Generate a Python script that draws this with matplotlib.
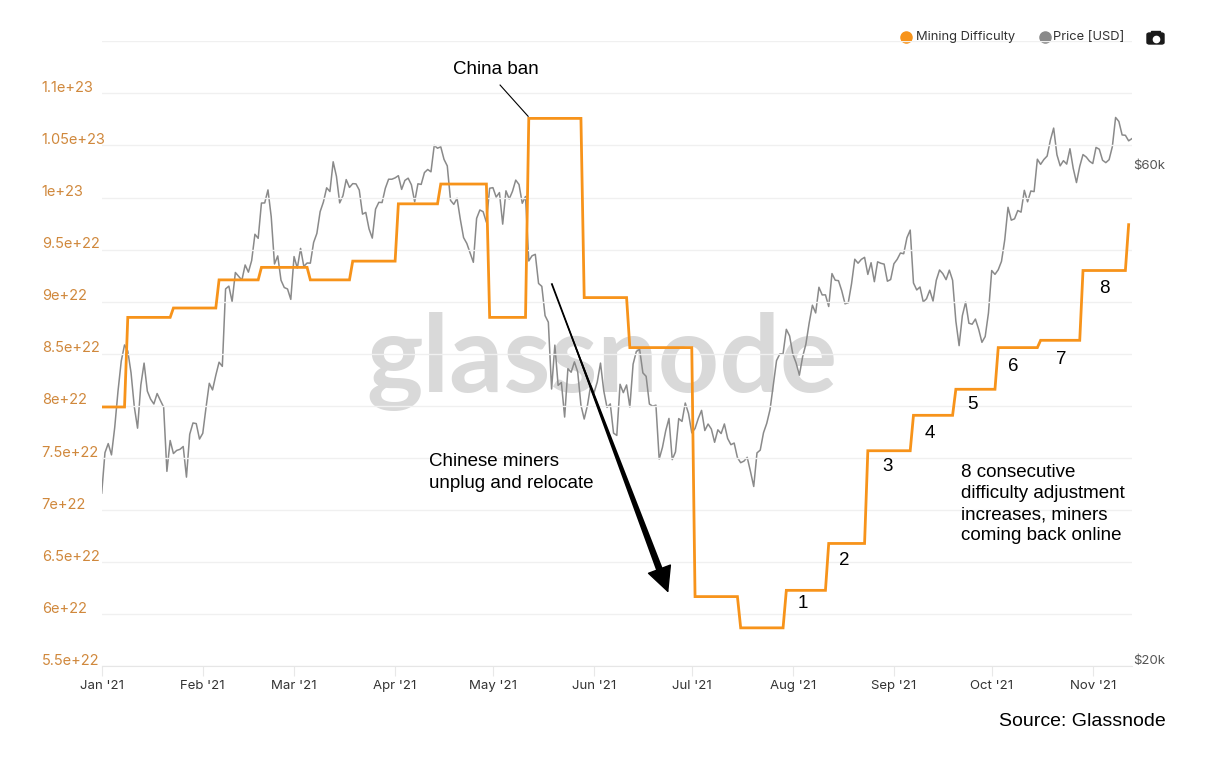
import numpy as np
import pandas as pd
import matplotlib
matplotlib.use("Agg")
import matplotlib.pyplot as plt
import matplotlib.dates as mdates
import matplotlib.transforms as mtransforms
from matplotlib.patches import FancyBboxPatch, Rectangle
from matplotlib.lines import Line2D
from matplotlib.ticker import NullLocator

# daily BTC price [USD], 2021-01-01 .. 2021-11-13
price_jan = [29374, 32127, 32782, 31971, 33992, 36824, 39371, 40797, 40254, 38356,
             35566, 33922, 37316, 39187, 36825, 36178, 35792, 36630, 36070, 35547,
             30825, 33005, 32067, 32289, 32366, 32569, 30432, 33466, 34316, 34269, 33114]
price_feb = [33538, 35510, 37472, 36926, 38144, 39266, 38903, 46196, 46481, 44919,
             47909, 47504, 47105, 48717, 47945, 49199, 52149, 51679, 55888, 55900,
             57539, 54207, 48824, 49705, 47093, 46339, 46188, 45137]
price_mar = [49631, 48378, 50538, 48561, 48927, 48912, 51206, 52246, 54824, 56008,
             57805, 57332, 61243, 59302, 55907, 56804, 58870, 57858, 58346, 58313,
             57523, 54529, 54738, 52774, 51705, 55137, 55974, 55947, 57750, 58917, 58918]
price_apr = [59095, 59384, 57604, 58760, 59057, 58192, 56048, 58323, 58245, 59794,
             60205, 59893, 63504, 63110, 63315, 61572, 60684, 56216, 55724, 56473,
             53906, 51763, 51093, 50050, 49004, 54021, 55034, 54824, 53555, 57750]
price_may = [57828, 56631, 57200, 53334, 57424, 56397, 57356, 58803, 58232, 55859,
             56704, 49150, 49716, 49880, 46760, 46456, 43537, 42910, 37002, 40782,
             37304, 37536, 34770, 38705, 38402, 39294, 38436, 35697, 34616, 35678, 37332]
price_jun = [36684, 37575, 39187, 36851, 35520, 35796, 33552, 33380, 37389, 36702,
             37334, 35552, 39097, 40218, 40406, 38347, 38053, 35787, 35615, 35698,
             31676, 32505, 33723, 34662, 31637, 32186, 34650, 34434, 35867, 35041]
price_jul = [33572, 33897, 34668, 35287, 33746, 34235, 33855, 32877, 33798, 33520,
             34240, 33155, 32702, 32822, 31780, 31421, 31533, 31796, 30817, 29807,
             32110, 32313, 33581, 34292, 35350, 37337, 39406, 39995, 40008, 42235, 41626]
price_aug = [39974, 39201, 38152, 39747, 40869, 42816, 44555, 43798, 46365, 45585,
             45593, 44428, 47793, 47096, 47047, 46004, 44695, 44802, 46717, 49339,
             48905, 49321, 49546, 47706, 48960, 46942, 49058, 48897, 48807, 46991, 47166]
price_sep = [48847, 49327, 50025, 49944, 51753, 52633, 46811, 46091, 46391, 44883,
             45201, 46063, 44963, 47092, 48177, 47784, 47155, 48159, 47089, 43012,
             40734, 43543, 44865, 42811, 42716, 43208, 42236, 41035, 41564, 43791]
price_oct = [48116, 47711, 48200, 49112, 51515, 55362, 53805, 53967, 54968, 54771,
             57485, 56041, 57401, 57322, 61593, 60892, 61553, 62027, 64261, 65993,
             62210, 60692, 61393, 60930, 63040, 60364, 58482, 60622, 62228, 61888, 61319]
price_nov = [61005, 63226, 62970, 61453, 61125, 61527, 63327, 67566, 66972, 64995,
             64950, 64155, 64469]

price = (price_jan + price_feb + price_mar + price_apr + price_may + price_jun +
         price_jul + price_aug + price_sep + price_oct + price_nov)
price_dates = pd.date_range("2021-01-01", periods=len(price), freq="D")

# difficulty adjustments: first day on the new level, level in 1e22
adj_dates = ["2021-01-01", "2021-01-09", "2021-01-23", "2021-02-06", "2021-02-19",
             "2021-03-06", "2021-03-19", "2021-04-02", "2021-04-15", "2021-04-30",
             "2021-05-12", "2021-05-29", "2021-06-12", "2021-07-02", "2021-07-16",
             "2021-07-30", "2021-08-12", "2021-08-24", "2021-09-07", "2021-09-20",
             "2021-10-03", "2021-10-16", "2021-10-29", "2021-11-12"]
adj_levels = [7.99, 8.85, 8.94, 9.21, 9.33, 9.21, 9.39, 9.94, 10.13, 8.85,
              10.76, 9.04, 8.56, 6.17, 5.87, 6.23, 6.68, 7.57, 7.91, 8.16,
              8.56, 8.63, 9.30, 9.74]

diff_days = pd.date_range("2021-01-01", "2021-11-12", freq="D")
difficulty = pd.Series(adj_levels, index=pd.to_datetime(adj_dates)).reindex(diff_days, method="ffill") * 1e22

diff_ticks = [5.5e22, 6e22, 6.5e22, 7e22, 7.5e22, 8e22, 8.5e22, 9e22, 9.5e22, 1e23, 1.05e23, 1.1e23, 1.15e23]
diff_tick_labels = ["5.5e+22", "6e+22", "6.5e+22", "7e+22", "7.5e+22", "8e+22", "8.5e+22",
                    "9e+22", "9.5e+22", "1e+23", "1.05e+23", "1.1e+23", ""]
price_ticks = [20000, 60000]
price_tick_labels = ["$20k", "$60k"]

ORANGE = "#f7931a"
GREY = "#8a8a8a"
W, H = 1212, 761


def fx(px):
    return px / W


def fy(py):
    return 1 - py / H


base = mdates.date2num(pd.Timestamp("2021-01-01"))


def day(d):
    return base + d


fig = plt.figure(figsize=(W / 100, H / 100), dpi=100)
ax = fig.add_axes([fx(101.7), fy(666.4), (1131.9 - 101.7) / W, (666.4 - 41.3) / H])
ax2 = ax.twinx()
ax.set_zorder(2)
ax.patch.set_visible(False)
ax2.set_zorder(1)

# watermark behind the lines
fig.text(fx(602), fy(392), "glassnode", ha="center", va="baseline", fontsize=77,
         family="Lato", weight="bold", color="#d9d9d9", zorder=0.5)

ax.plot(difficulty.index, difficulty.values, color=ORANGE, lw=2, solid_joinstyle="miter")
ax2.plot(price_dates, price, color=GREY, lw=1.1)

ax.set_xlim(price_dates[0], price_dates[-1])
ax.set_ylim(5.5e22, 1.15e23)
ax2.set_yscale("log")
ax2.set_ylim(20000, 80000)

ax.xaxis.set_major_locator(mdates.MonthLocator())
ax.xaxis.set_major_formatter(mdates.DateFormatter("%b '%y"))
ax.tick_params(axis="x", length=7, color="#e8e8e8", labelcolor="#333333", labelsize=9.5, pad=3)
for lbl in ax.get_xticklabels():
    lbl.set_family("Inter")

ax.set_yticks(diff_ticks, diff_tick_labels)
ax.tick_params(axis="y", length=0, pad=43.2, labelsize=10.5, labelcolor="#d0883c")
ax.grid(axis="y", color="#f0f0f0", lw=1)
up = mtransforms.ScaledTranslation(0, 0.07, fig.dpi_scale_trans)
for lbl in ax.get_yticklabels():
    lbl.set_horizontalalignment("left")
    lbl.set_family("Inter")
    lbl.set_transform(lbl.get_transform() + up)

ax2.set_yticks(price_ticks, price_tick_labels)
ax2.yaxis.set_minor_locator(NullLocator())
ax2.tick_params(axis="y", length=0, pad=1.0, labelsize=9.5, labelcolor="#555555")
for lbl in ax2.get_yticklabels():
    lbl.set_family("Inter")
    lbl.set_transform(lbl.get_transform() + up)

for s in ["top", "left", "right"]:
    ax.spines[s].set_visible(False)
ax.spines["bottom"].set_color("#e6e6e6")
for s in ax2.spines.values():
    s.set_visible(False)

# annotations
txt = dict(family="Liberation Sans", fontsize=13.5, color="black")
ax.text(day(120.9), 1.123e23, "China ban", ha="center", va="center", **txt)
ax.plot([day(122.2), day(130.8)], [1.108e23, 1.078e23], color="black", lw=0.8)
ax.text(day(100.4), 7.36e22, "Chinese miners\nunplug and relocate", ha="left", va="center",
        linespacing=1.35, **txt)
# tapered shaft (wide end next to the head) + solid head
ax.plot([day(138.0), day(171.4)], [9.177e22, 6.405e22], color="black", lw=1.3,
        solid_capstyle="butt")
ax.annotate("", xy=(day(138.0), 9.177e22), xytext=(day(171.4), 6.405e22),
            arrowprops=dict(arrowstyle="wedge,tail_width=0.5,shrink_factor=0.5",
                            color="black", lw=0, mutation_scale=10, shrinkA=0, shrinkB=0))
ax.annotate("", xy=(day(173.8), 6.207e22), xytext=(day(171.0), 6.44e22),
            arrowprops=dict(arrowstyle="-|>,head_length=0.85,head_width=0.42",
                            color="black", lw=1, mutation_scale=20, shrinkA=0, shrinkB=0))
ax.text(day(263.6), 7.059e22, "8 consecutive\ndifficulty adjustment\nincreases, miners\ncoming back online",
        ha="left", va="center", linespacing=1.32, **txt)
num_pos = [(215.1, 6.099e22), (227.7, 6.521e22), (240.9, 7.414e22), (254.1, 7.740e22),
           (267.0, 8.018e22), (279.5, 8.383e22), (294.3, 8.441e22), (307.5, 9.132e22)]
for i, (d, v) in enumerate(num_pos):
    ax.text(day(d), v, str(i + 1), ha="center", va="center", **txt)

fig.text(fx(1166), fy(722), "Source: Glassnode", ha="right", va="center",
         family="Liberation Sans", fontsize=14, color="black")

# legend row
fig.add_artist(Line2D([fx(906)], [fy(37)], marker="o", ms=8, color=ORANGE, transform=fig.transFigure))
fig.text(fx(916), fy(37), "Mining Difficulty", ha="left", va="center", fontsize=9.3,
         family="Inter", color="#333333")
fig.add_artist(Line2D([fx(1045)], [fy(37)], marker="o", ms=8, color=GREY, transform=fig.transFigure))
fig.text(fx(1053), fy(37), "Price [USD]", ha="left", va="center", fontsize=9.3,
         family="Inter", color="#333333")
# camera icon
fig.add_artist(FancyBboxPatch((fx(1147), fy(44)), 17 / W, 11 / H, transform=fig.transFigure,
                              boxstyle="round,pad=0,rounding_size=0.002", color="#1a1a1a"))
fig.add_artist(Rectangle((fx(1151), fy(33.5)), 9 / W, 3 / H, transform=fig.transFigure, color="#1a1a1a"))
fig.add_artist(Line2D([fx(1155.5)], [fy(38.5)], marker="o", ms=4.5, mfc="white", mec="white",
                      transform=fig.transFigure))

fig.savefig("out.png", dpi=100)
